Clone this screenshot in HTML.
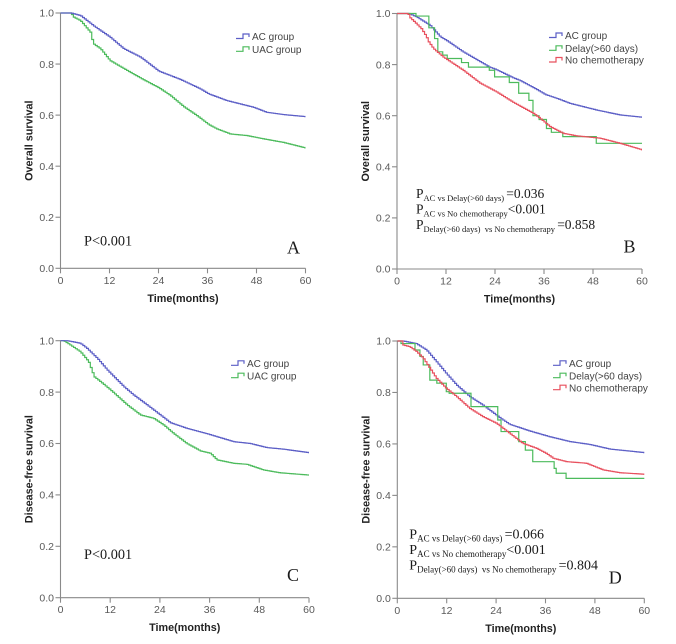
<!DOCTYPE html>
<html>
<head>
<meta charset="utf-8">
<style>
html,body{margin:0;padding:0;background:#fff;}
svg{display:block;}
.tick{font-family:"Liberation Sans",Arial,sans-serif;font-size:10.5px;fill:#5a5a5a;}
.title{font-family:"Liberation Sans",Arial,sans-serif;font-size:10.8px;font-weight:bold;fill:#222;}
.leg{font-family:"Liberation Sans",Arial,sans-serif;font-size:10px;fill:#444;}
.serif{font-family:"Liberation Serif","Times New Roman",serif;fill:#1a1a1a;}
</style>
</head>
<body>
<svg id="s" width="676" height="644" viewBox="0 0 676 644" xmlns="http://www.w3.org/2000/svg">
<rect width="676" height="644" fill="#fff"/>
<g id="g"></g>

<!-- Panel A text -->
<text class="serif" x="84" y="245.5" font-size="14.3">P&lt;0.001</text>
<text class="serif" x="287" y="253.3" font-size="18">A</text>

<!-- Panel B text -->
<text class="serif" x="416" y="198" font-size="13.5">P<tspan font-size="8.5" dy="3">AC vs Delay(&gt;60 days) </tspan><tspan dy="-3">=0.036</tspan></text>
<text class="serif" x="416" y="213.5" font-size="13.5">P<tspan font-size="8.5" dy="3">AC vs No chemotherapy</tspan><tspan dy="-3">&lt;0.001</tspan></text>
<text class="serif" x="416" y="229" font-size="13.5">P<tspan font-size="8.5" dy="3">Delay(&gt;60 days)&#160; vs No chemotherapy </tspan><tspan dy="-3">=0.858</tspan></text>
<text class="serif" x="623.5" y="252.5" font-size="18">B</text>

<!-- Panel C text -->
<text class="serif" x="84" y="559" font-size="14.3">P&lt;0.001</text>
<text class="serif" x="287" y="581" font-size="18">C</text>

<!-- Panel D text -->
<text class="serif" x="409.3" y="538.3" font-size="14">P<tspan font-size="9" dy="3">AC vs Delay(&gt;60 days) </tspan><tspan dy="-3">=0.066</tspan></text>
<text class="serif" x="409.3" y="554" font-size="14">P<tspan font-size="9" dy="3">AC vs No chemotherapy</tspan><tspan dy="-3">&lt;0.001</tspan></text>
<text class="serif" x="409.3" y="569.5" font-size="14">P<tspan font-size="9" dy="3">Delay(&gt;60 days)&#160; vs No chemotherapy </tspan><tspan dy="-3">=0.804</tspan></text>
<text class="serif" x="608.7" y="583.3" font-size="18">D</text>
</svg>

<script>
(function(){
var NS="http://www.w3.org/2000/svg";
var g=document.getElementById("g");
var BLUE="#5b5ec6", GREEN="#4cbb5c", RED="#e8505e", AX="#8a8a8a";
function el(tag,attrs,txt){var e=document.createElementNS(NS,tag);for(var k in attrs)e.setAttribute(k,attrs[k]);if(txt!==undefined)e.textContent=txt;g.appendChild(e);return e;}
function interp(kn,t){
  if(t<=kn[0][0])return kn[0][1];
  for(var i=1;i<kn.length;i++){ if(t<=kn[i][0]){var a=kn[i-1],b=kn[i];return a[1]+(b[1]-a[1])*(t-a[0])/(b[0]-a[0]);} }
  return kn[kn.length-1][1];
}
function panel(p){
  var X=function(t){return p.x0+t*(p.x60-p.x0)/60;};
  var Y=function(v){return p.y0-v*(p.y0-p.y1);};
  el("path",{d:"M"+p.x0+","+p.y1+" V"+p.y0+" H"+p.x60,stroke:AX,"stroke-width":1.1,fill:"none"});
  for(var i=0;i<=5;i++){
    var v=i*0.2, y=Y(v);
    el("line",{x1:p.x0-5,y1:y,x2:p.x0,y2:y,stroke:AX,"stroke-width":1.1});
    el("text",{"class":"tick",x:p.x0-6.5,y:y+3.7,"text-anchor":"end"},v.toFixed(1));
  }
  for(var j=0;j<=5;j++){
    var t=j*12, x=X(t);
    el("line",{x1:x,y1:p.y0,x2:x,y2:p.y0+5,stroke:AX,"stroke-width":1.1});
    el("text",{"class":"tick",x:x,y:p.y0+15.5,"text-anchor":"middle"},String(t));
  }
  el("text",{"class":"title",x:(p.x0+p.x60)/2,y:p.y0+33.5,"text-anchor":"middle"},"Time(months)");
  var cy=(p.y1+p.y0)/2, cx=p.x0-28;
  el("text",{"class":"title",x:cx,y:cy,"text-anchor":"middle",transform:"rotate(-90 "+cx+" "+cy+")"},p.ylab);
  p.curves.forEach(function(c){
    var d="M"+X(0).toFixed(2)+","+Y(1).toFixed(2);
    if(c.steps){
      c.steps.forEach(function(s){d+=" H"+X(s[0]).toFixed(2)+" V"+Y(s[1]).toFixed(2);});
      d+=" H"+X(60).toFixed(2);
    } else {
      var dt=0.45;
      for(var t=dt;t<=60.0001;t+=dt){
        d+=" H"+X(t).toFixed(2)+" V"+Y(interp(c.kn,t)).toFixed(2);
      }
      d+=" H"+X(60).toFixed(2);
    }
    el("path",{d:d,stroke:c.col,"stroke-width":1.2,fill:"none","stroke-linejoin":"miter"});
  });
  p.leg.forEach(function(L,k){
    var yc=p.ly[k], sx=p.lx;
    el("path",{d:"M"+sx+","+(yc+2)+" H"+(sx+7)+" V"+(yc-2.5)+" H"+(sx+13)+" V"+(yc+0.5),stroke:L[1],"stroke-width":1.2,fill:"none"});
    el("text",{"class":"leg",x:sx+16,y:yc+3.6},L[0]);
  });
}

var A_AC=[[0,1],[2.5,1],[4.8,0.99],[8,0.95],[12,0.906],[15.4,0.86],[19.5,0.827],[24,0.772],[29.2,0.74],[34.1,0.703],[36.2,0.683],[40.6,0.657],[47.1,0.631],[50.4,0.611],[54.5,0.602],[60,0.594]];
var A_UAC=[[0,1],[2.5,1],[3,0.985],[4.8,0.97],[7.2,0.925],[7.9,0.88],[9.7,0.86],[12,0.814],[16.2,0.775],[20.3,0.738],[24,0.707],[26.8,0.677],[30,0.634],[33.3,0.598],[36.2,0.563],[38.2,0.546],[41.5,0.526],[45.5,0.52],[49.6,0.507],[54.5,0.493],[60,0.471]];

var B_AC=[[0,1],[2.8,1],[4.65,0.987],[8,0.954],[10.5,0.909],[12,0.895],[16.1,0.85],[22.6,0.79],[24,0.782],[28.4,0.748],[30,0.738],[34.1,0.703],[36.2,0.683],[39,0.668],[42.3,0.648],[48.8,0.622],[54.5,0.603],[60,0.594]];
var B_DEL=[[4.65,0.99],[7.8,0.944],[9.2,0.902],[10.0,0.85],[11.2,0.837],[12.3,0.824],[15.8,0.808],[17.5,0.79],[22.6,0.778],[23.9,0.752],[27.5,0.73],[29.8,0.688],[32.3,0.66],[33.3,0.60],[34.8,0.585],[36.6,0.55],[37.8,0.535],[40.6,0.518],[48.8,0.492]];
var B_NO=[[0,1],[2.6,1],[3,0.985],[4.65,0.96],[5.9,0.94],[7.1,0.909],[7.6,0.89],[8.8,0.863],[11.2,0.83],[16.1,0.778],[20.2,0.728],[24.3,0.693],[28.4,0.652],[33.3,0.609],[34.9,0.59],[37.4,0.557],[40.6,0.531],[43.9,0.521],[49.6,0.512],[54.5,0.492],[60,0.466]];

var C_AC=[[0,1],[1.5,1],[4.7,0.99],[6.3,0.97],[8.8,0.931],[11.2,0.886],[12.8,0.86],[15.2,0.821],[17.6,0.788],[20.8,0.75],[24,0.711],[26.4,0.681],[30.4,0.659],[35.7,0.636],[41.7,0.607],[45.7,0.6],[49.7,0.584],[53.7,0.578],[60,0.564]];
var C_UAC=[[0,1],[0.7,1],[2.3,0.983],[4.7,0.957],[6.7,0.918],[8,0.86],[9.6,0.84],[12,0.808],[16,0.75],[19.2,0.711],[22.4,0.698],[24.8,0.672],[27.2,0.639],[30.4,0.6],[33.7,0.571],[36.1,0.562],[37.7,0.536],[41.7,0.523],[44.9,0.519],[48.9,0.497],[52.9,0.486],[60,0.477]];

var D_AC=[[0,1],[1.3,1],[4.5,0.99],[7,0.965],[9.4,0.92],[11.8,0.874],[14.3,0.829],[17.5,0.784],[20.7,0.751],[24.8,0.702],[27.2,0.676],[32.1,0.65],[36.9,0.628],[41.8,0.609],[46.6,0.598],[51.5,0.58],[60,0.566]];
var D_DEL=[[0.9,0.99],[4.3,0.965],[5.5,0.94],[6.3,0.907],[7.9,0.848],[9.6,0.836],[11.9,0.803],[12.6,0.797],[17.9,0.745],[24.4,0.693],[25.2,0.648],[29.5,0.609],[31.1,0.576],[32.9,0.531],[38.1,0.505],[38.6,0.486],[41,0.466]];
var D_NO=[[0,1],[0.9,1],[1.2,0.985],[2.9,0.978],[4.5,0.96],[6.2,0.933],[7.8,0.894],[9.4,0.855],[11.8,0.816],[14.3,0.784],[17.5,0.738],[20.7,0.706],[24,0.68],[27.2,0.641],[30.4,0.602],[33.7,0.583],[36.1,0.563],[37.8,0.544],[41,0.531],[45.8,0.525],[49.9,0.499],[54,0.488],[60,0.482]];

panel({x0:60.5,x60:305.5,y1:13,y0:268.3,ylab:"Overall survival",
  curves:[{kn:A_UAC,col:GREEN},{kn:A_AC,col:BLUE}],
  leg:[["AC group",BLUE],["UAC group",GREEN]],lx:236,ly:[36.5,49.3]});
panel({x0:397,x60:642,y1:13.5,y0:269,ylab:"Overall survival",
  curves:[{kn:B_AC,col:BLUE},{steps:B_DEL,col:GREEN},{kn:B_NO,col:RED}],
  leg:[["AC group",BLUE],["Delay(>60 days)",GREEN],["No chemotherapy",RED]],lx:549,ly:[35.5,48.3,60]});
panel({x0:60.5,x60:309,y1:340.7,y0:597.7,ylab:"Disease-free survival",
  curves:[{kn:C_UAC,col:GREEN},{kn:C_AC,col:BLUE}],
  leg:[["AC group",BLUE],["UAC group",GREEN]],lx:231,ly:[363.3,375.7]});
panel({x0:397.3,x60:644.3,y1:341,y0:598.3,ylab:"Disease-free survival",
  curves:[{kn:D_AC,col:BLUE},{steps:D_DEL,col:GREEN},{kn:D_NO,col:RED}],
  leg:[["AC group",BLUE],["Delay(>60 days)",GREEN],["No chemotherapy",RED]],lx:553,ly:[363.3,375.7,387.7]});
})();
</script>
</body>
</html>
